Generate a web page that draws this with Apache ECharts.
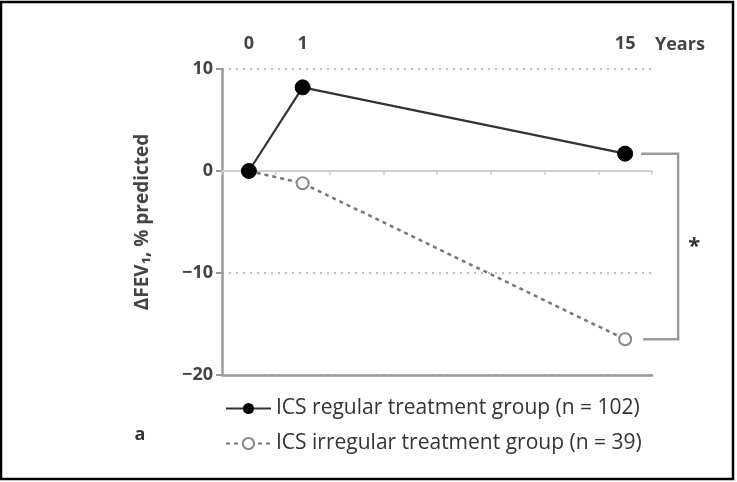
<!DOCTYPE html>
<html><head><meta charset="utf-8">
<script src="https://cdn.jsdelivr.net/npm/echarts@6/dist/echarts.min.js"></script>
<style>html,body{margin:0;padding:0;background:#fff}#c{width:737px;height:482px}</style>
</head><body><div id="c"></div>
<script>
// Axis with a break: categories 2..6 are the gap between year 1 and year 15
const categories = ['0', '1', '', '', '', '', '', '15'];
const regularValues = [0, 8.2, null, null, null, null, null, 1.7];
const irregularValues = [0, -1.2, null, null, null, null, null, -16.5];
const yTicks = [-20, -10, 0, 10];
const seriesNames = ['ICS regular treatment group (n = 102)', 'ICS irregular treatment group (n = 39)'];

const FONT = '"Open Sans", "DejaVu Sans", sans-serif';
const chart = echarts.init(document.getElementById('c'), null, {renderer: 'canvas'});
const option = {
  animation: false,
  backgroundColor: '#fff',
  grid: {left: 222, right: 85, top: 69, bottom: 107, containLabel: false},
  xAxis: [
    {type: 'category', data: categories, boundaryGap: true, position: 'bottom',
     axisLine: {onZero: true, lineStyle: {color: '#cfcfcf', width: 2}},
     axisTick: {show: true, length: 4, lineStyle: {color: '#cfcfcf', width: 1.5}},
     axisLabel: {show: false}, splitLine: {show: false}},
    {type: 'category', data: categories, boundaryGap: true, position: 'top',
     axisLine: {show: false}, axisTick: {show: false},
     axisLabel: {show: true, margin: 16, fontFamily: FONT, fontSize: 18, fontWeight: 'bold', color: '#444', interval: 0},
     splitLine: {show: false}},
    {type: 'category', data: categories, boundaryGap: true, position: 'bottom',
     axisLine: {onZero: false, lineStyle: {color: '#9a9a9a', width: 2.5}},
     axisTick: {show: false}, axisLabel: {show: false}, splitLine: {show: false}}
  ],
  yAxis: {
    type: 'value', min: yTicks[0], max: yTicks[yTicks.length - 1], interval: 10,
    name: 'ΔFEV₁, % predicted', nameLocation: 'middle', nameGap: 70, nameRotate: 90,
    nameTextStyle: {fontFamily: FONT, fontSize: 19, fontWeight: 'bold', color: '#444'},
    axisLine: {show: true, lineStyle: {color: '#9a9a9a', width: 2.5}},
    axisTick: {show: true, length: 6, lineStyle: {color: '#9a9a9a', width: 2}},
    axisLabel: {fontFamily: FONT, fontSize: 18, fontWeight: 'bold', color: '#444', margin: 9,
      formatter: v => (v < 0 ? '\u2212' + Math.abs(v) : String(v))},
    splitLine: {show: true, lineStyle: {color: '#aaa', type: [2, 5], width: 1.5}}
  },
  legend: {
    orient: 'vertical', left: 220, top: 393, itemWidth: 45, itemHeight: 14, itemGap: 14,
    textStyle: {fontFamily: FONT, fontSize: 21, color: '#333'},
    data: seriesNames
  },
  series: [
    {name: seriesNames[0], type: 'line', data: regularValues, connectNulls: true, xAxisIndex: 0,
     symbol: 'circle', symbolSize: 15, z: 5,
     lineStyle: {color: '#333', width: 2.2},
     itemStyle: {color: '#000', borderColor: '#000'}},
    {name: seriesNames[1], type: 'line', data: irregularValues, connectNulls: true, xAxisIndex: 0,
     symbol: 'emptyCircle', symbolSize: 12, z: 4,
     lineStyle: {color: '#777', width: 2.5, type: [4, 4]},
     itemStyle: {color: '#888', borderColor: '#888', borderWidth: 2}}
  ]
};
chart.setOption(option);

// bracket between final values, positioned from the axes
const lastIdx = categories.length - 1;
const xEnd = chart.convertToPixel({xAxisIndex: 0}, lastIdx);
const yReg = chart.convertToPixel({yAxisIndex: 0}, regularValues[lastIdx]);
const yIrr = chart.convertToPixel({yAxisIndex: 0}, irregularValues[lastIdx]);
const bx = xEnd + 53;
chart.setOption({
  graphic: [
    {type: 'rect', shape: {x: 1, y: 2, width: 732, height: 477},
     style: {fill: null, stroke: '#000', lineWidth: 2.5}, silent: true},
    {type: 'polyline', shape: {points: [[xEnd + 16, yReg], [bx, yReg], [bx, yIrr], [xEnd + 18, yIrr]]},
     style: {stroke: '#9a9a9a', lineWidth: 2.5, fill: null}},
    {type: 'text', x: bx + 16, y: (yReg + yIrr) / 2, style: {text: '*', font: 'bold 22px ' + FONT, fill: '#333', align: 'center', verticalAlign: 'middle'}},
    {type: 'text', x: 655, y: 45, style: {text: 'Years', font: 'bold 18px ' + FONT, fill: '#444', align: 'left', verticalAlign: 'middle'}},
    {type: 'text', x: 140, y: 435, style: {text: 'a', font: 'bold 18px ' + FONT, fill: '#333', align: 'center', verticalAlign: 'middle'}}
  ]
});
</script></body></html>
